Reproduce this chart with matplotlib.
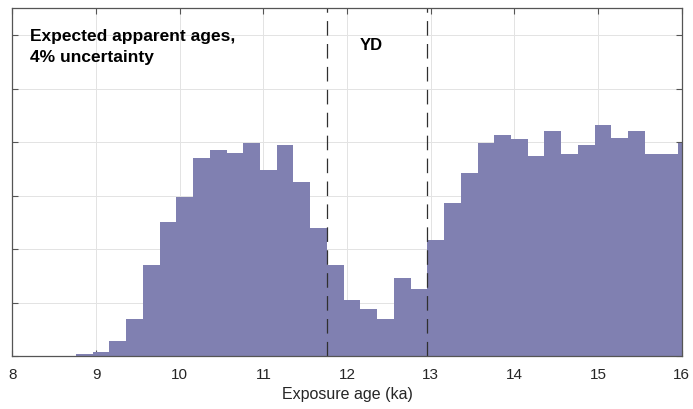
#!/usr/bin/env python3
# -*- coding: utf-8 -*-

import matplotlib
matplotlib.use('Agg')
import matplotlib.pyplot as plt
import numpy

# histogram of expected apparent exposure ages, 0.2 ka bins
bin_start = 8.76
bin_width = 0.2
counts = [0.03, 0.08, 0.28, 0.70, 1.70, 2.50, 2.97, 3.70, 3.86, 3.79,
          3.98, 3.48, 3.94, 3.26, 2.40, 1.71, 1.04, 0.88, 0.70, 1.45,
          1.25, 2.17, 2.86, 3.43, 3.99, 4.14, 4.06, 3.74, 4.21, 3.78,
          3.94, 4.32, 4.07, 4.21, 3.78, 3.78, 3.98]

# Younger Dryas boundaries (ka)
yd_bounds = [11.76, 12.96]

xticks = [8, 9, 10, 11, 12, 13, 14, 15, 16]


def main():
    plt.rcParams['font.family'] = ['Liberation Sans', 'DejaVu Sans']
    plt.rcParams['lines.scale_dashes'] = False

    fig = plt.figure(figsize=(6.93, 4.10), dpi=100)
    ax = fig.add_axes([0.0178, 0.1293, 0.9659, 0.8477])

    edges = bin_start + bin_width * numpy.arange(len(counts))
    ax.bar(edges, counts, width=bin_width, align='edge',
           color='#8080b1', linewidth=0, zorder=2)

    for xb in yd_bounds:
        ax.axvline(xb, color='#303030', linewidth=0.9,
                   dashes=(10.5, 6.0), zorder=3)

    ax.set_xlim(8, 16)
    ax.set_ylim(0, 6.5)
    ax.set_xticks(xticks)
    ax.set_yticks(numpy.arange(0, 7))
    ax.set_yticklabels([])

    ax.grid(True, color='#e3e3e3', linewidth=0.7, zorder=0)
    ax.set_axisbelow(True)

    for sp in ax.spines.values():
        sp.set_color('#555555')
        sp.set_linewidth(0.9)
        sp.set_zorder(4)

    ax.tick_params(direction='in', length=4.5, width=0.8, color='#555555',
                   top=True, right=True, labelsize=11,
                   labelcolor='#262626', pad=8)

    ax.set_xlabel('Exposure age (ka)', fontsize=11.5, color='#262626',
                  labelpad=3.5)

    ax.text(0.026, 0.945, 'Expected apparent ages,\n4% uncertainty',
            transform=ax.transAxes, fontsize=12.5, fontweight='bold',
            va='top', ha='left', linespacing=1.5, color='black')
    ax.text(12.155, 5.83, 'YD', fontsize=12, fontweight='bold',
            va='center', ha='left', color='black')

    fig.savefig('out.png', dpi=100)
    plt.close(fig)


if __name__ == '__main__':
    main()
